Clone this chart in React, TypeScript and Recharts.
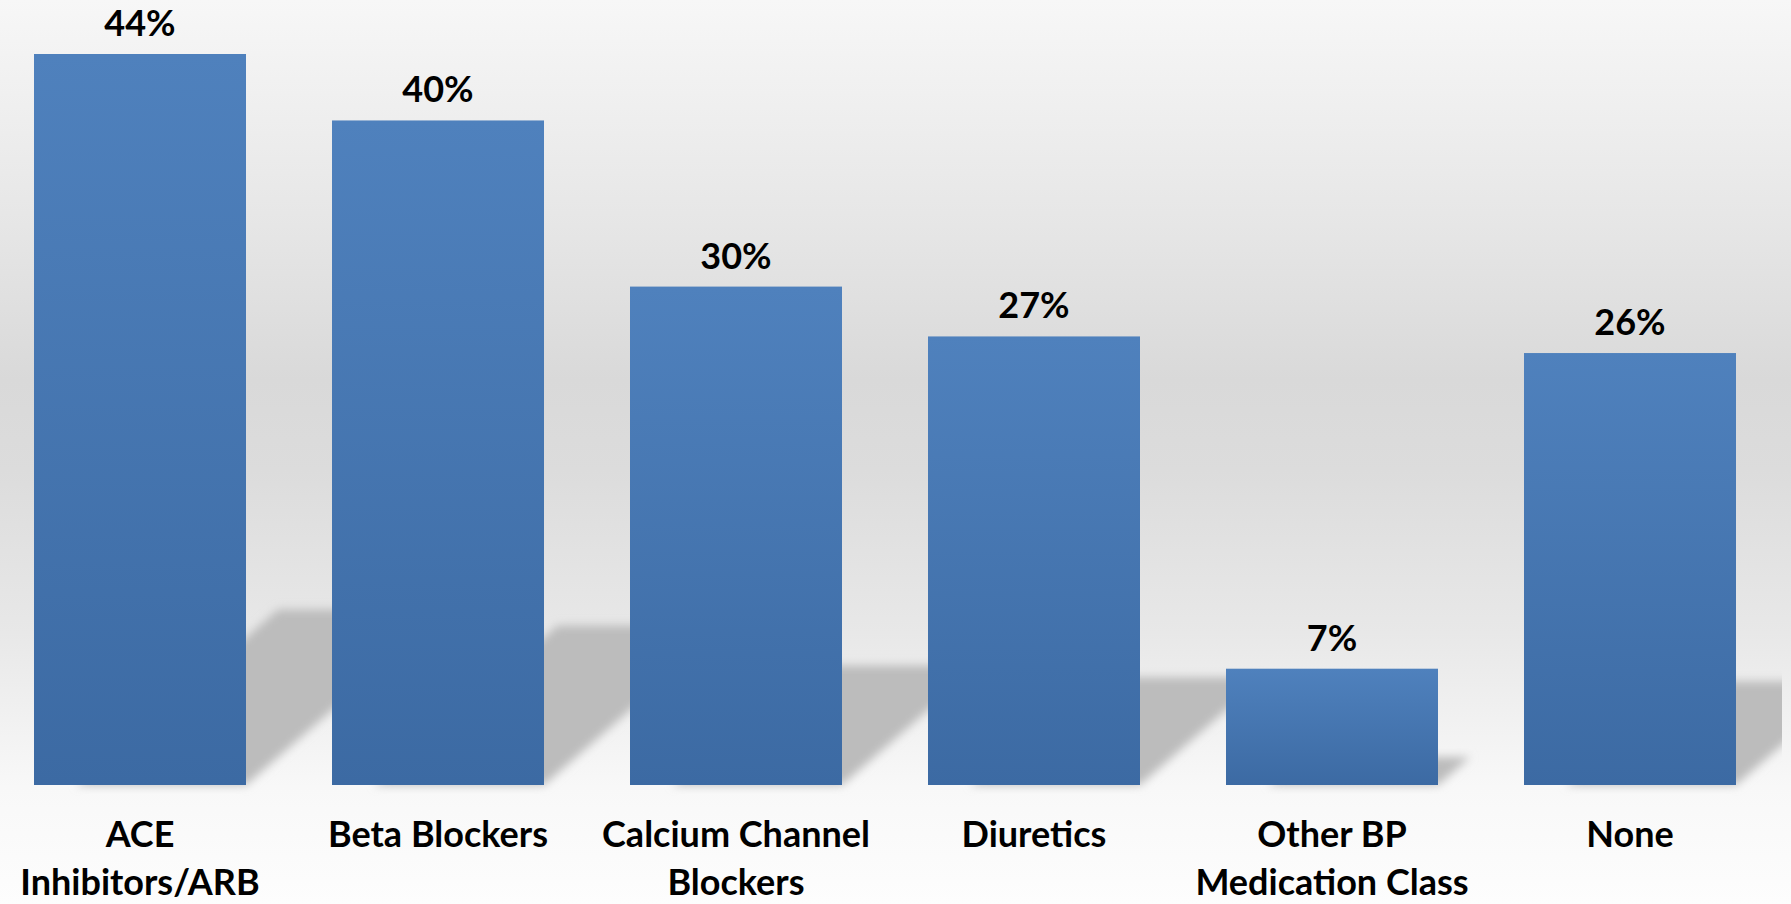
import { BarChart, Bar, XAxis, YAxis, LabelList } from 'recharts';

// BP medication class shares (%)
const categories = [
  'ACE\nInhibitors/ARB',
  'Beta Blockers',
  'Calcium Channel\nBlockers',
  'Diuretics',
  'Other BP\nMedication Class',
  'None',
];
const shares = [44, 40, 30, 27, 7, 26];

const data = categories.map((name, i) => ({ name, value: shares[i] }));

const FONT = 'Lato, "Liberation Sans", sans-serif';

// bar + the slanted floor shadow behind it
function BarWithShadow(props: any) {
  const { x, y, width, height } = props;
  const bottom = y + height;
  const h = height * 0.24;
  const dx = h * 1.15;
  const sx = x + width * 0.2;
  const shadow = `M${sx},${bottom} L${x + width},${bottom} L${x + width + dx},${bottom - h} L${sx + dx},${bottom - h} Z`;
  return (
    <g>
      <path d={shadow} fill="#bcbcbc" filter="url(#shadowBlur)" />
      <rect x={x} y={y} width={width} height={height} fill="url(#barFill)" />
    </g>
  );
}

function CategoryTick({ x, y, payload }: any) {
  const lines = String(payload.value).split('\n');
  return (
    <text x={x} y={y} textAnchor="middle" fontFamily={FONT} fontWeight={700} fontSize={36} fill="#000">
      {lines.map((line, i) => (
        <tspan key={i} x={x} dy={i === 0 ? 62 : 48}>
          {line}
        </tspan>
      ))}
    </text>
  );
}

export default function App() {
  return (
    <div
      style={{
        position: 'absolute',
        left: 0,
        top: 0,
        width: 1791,
        height: 904,
        overflow: 'hidden',
        background:
          'linear-gradient(to bottom, #f7f7f7 0%, #e6e6e6 25%, #d9d9d9 42%, #dcdcdc 52%, #e8e8e8 70%, #f8f8f8 87%, #fdfdfd 100%)',
      }}
    >
      <div style={{ position: 'absolute', left: -9, top: 0 }}>
        <BarChart
          width={1791}
          height={904}
          data={data}
          margin={{ top: 54, right: 3, bottom: 0, left: 0 }}
          barSize={212}
        >
          <defs>
            <linearGradient id="barFill" x1="0" y1="0" x2="0" y2="1">
              <stop offset="0%" stopColor="#4f81bd" />
              <stop offset="100%" stopColor="#3c6aa3" />
            </linearGradient>
            <filter id="shadowBlur" x="-30%" y="-30%" width="160%" height="160%">
              <feGaussianBlur stdDeviation="5" />
            </filter>
          </defs>
          <XAxis
            dataKey="name"
            height={119}
            axisLine={false}
            tickLine={false}
            tickSize={0}
            tickMargin={0}
            interval={0}
            tick={<CategoryTick />}
          />
          <YAxis hide domain={[0, 44]} />
          <Bar dataKey="value" shape={<BarWithShadow />} isAnimationActive={false}>
            <LabelList
              dataKey="value"
              position="top"
              offset={18}
              formatter={(v: any) => `${v}%`}
              style={{ fontFamily: FONT, fontWeight: 700, fontSize: 36, fill: '#000' }}
            />
          </Bar>
        </BarChart>
      </div>
    </div>
  );
}
